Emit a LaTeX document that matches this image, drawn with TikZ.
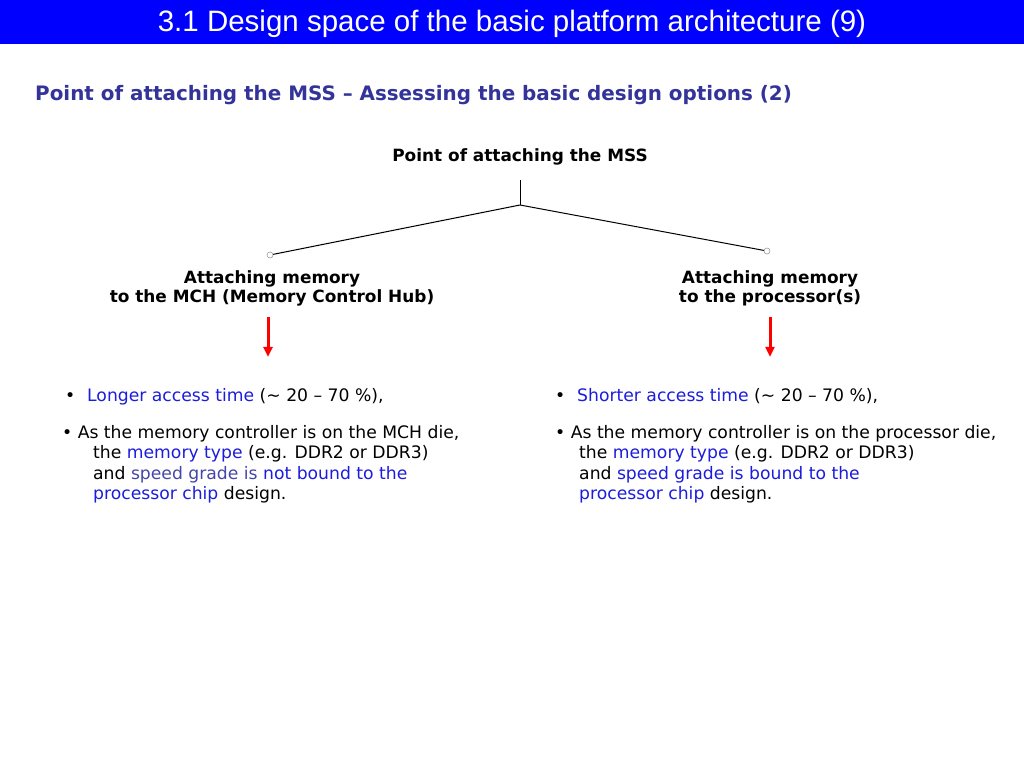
\documentclass[tikz,border=0pt]{standalone}
\usepackage{fontspec}
\setmainfont{DejaVu Sans}
\newfontfamily\titlefont{Liberation Sans}
\usepackage{tikz}
\usetikzlibrary{arrows.meta,positioning}
\definecolor{barBlue}{HTML}{0000FF}
\definecolor{subBlue}{HTML}{333399}
\definecolor{hiBlue}{HTML}{1C1CDC}
\definecolor{greyBlue}{HTML}{4646A8}
\definecolor{endGray}{HTML}{9A9A9A}

\begin{document}
\begin{tikzpicture}[
  x=1pt,y=-1pt,
  titletext/.style={text=white,font=\titlefont\fontsize{29.5}{33}\selectfont,inner sep=0pt},
  subtext/.style={text=subBlue,font=\bfseries\fontsize{19.9}{23}\selectfont,inner sep=0pt},
  optbox/.style={align=center,font=\bfseries\fontsize{16.9}{19}\selectfont,inner sep=0pt},
  listtext/.style={align=left,font=\fontsize{17.2}{20.4}\selectfont,inner sep=0pt},
  endmark/.style={circle,draw=endGray,fill=white,inner sep=0pt,minimum size=6pt,line width=0.6pt},
  tree/.style={draw=black,line width=1pt},
  redarrow/.style={-{Triangle[length=10pt,width=9pt]},draw=red,fill=red,line width=3pt}
]
% page and header bar
\fill[white] (0,0) rectangle (1024,768);
\useasboundingbox (0,0) rectangle (1024,768);
\fill[barBlue] (0,0) rectangle (1024,44);
\node[titletext] (title) at (512,24) {3.1 Design space of the basic platform architecture (9)};
\node[subtext,anchor=west] (sub) at (35,95) {Point of attaching the MSS – Assessing the basic design options (2)};

% tree
\node[optbox] (root) at (520,157) {Point of attaching the MSS};
\coordinate (stem) at (520,180);
\coordinate (fork) at (520,205);
\node[endmark] (endL) at (270,255) {};
\node[endmark] (endR) at (767,251) {};
\draw[tree] (stem) -- (fork);
\draw[tree] (fork) -- (endL);
\draw[tree] (fork) -- (endR);

\node[optbox] (optL) at (272,288) {Attaching memory\\to the MCH (Memory Control Hub)};
\node[optbox] (optR) at (770,288) {Attaching memory\\ to the processor(s)};

\draw[redarrow] ([xshift=-4pt,yshift=-11pt]optL.south) -- ++(0,40);
\draw[redarrow] ([yshift=-11pt]optR.south) -- ++(0,40);

% left column
\node[listtext,anchor=west] (accL) at (65,397) {\makebox[22pt][l]{\textbullet}\textcolor{hiBlue}{Longer access time} (\textasciitilde{} 20 – 70 \%),};
\node[listtext,anchor=north west] (mcL) at (62,425) {\textbullet{} As the memory controller is on the MCH die,\\
  \hspace*{31pt}the \textcolor{hiBlue}{memory type} (e.g. DDR2 or DDR3)\\
  \hspace*{31pt}and \textcolor{greyBlue}{speed grade is} \textcolor{hiBlue}{not bound to the}\\
  \hspace*{31pt}\textcolor{hiBlue}{processor chip} design.};

% right column
\node[listtext,anchor=west] (accR) at (555,396) {\makebox[22pt][l]{\textbullet}\textcolor{hiBlue}{Shorter access time} (\textasciitilde{} 20 – 70 \%),};
\node[listtext,anchor=north west] (mcR) at (555,425) {\textbullet{} As the memory controller is on the processor die,\\
  \hspace*{24pt}the \textcolor{hiBlue}{memory type} (e.g. DDR2 or DDR3)\\
  \hspace*{24pt}and \textcolor{hiBlue}{speed grade is bound to the}\\
  \hspace*{24pt}\textcolor{hiBlue}{processor chip} design.};
\end{tikzpicture}
\end{document}
